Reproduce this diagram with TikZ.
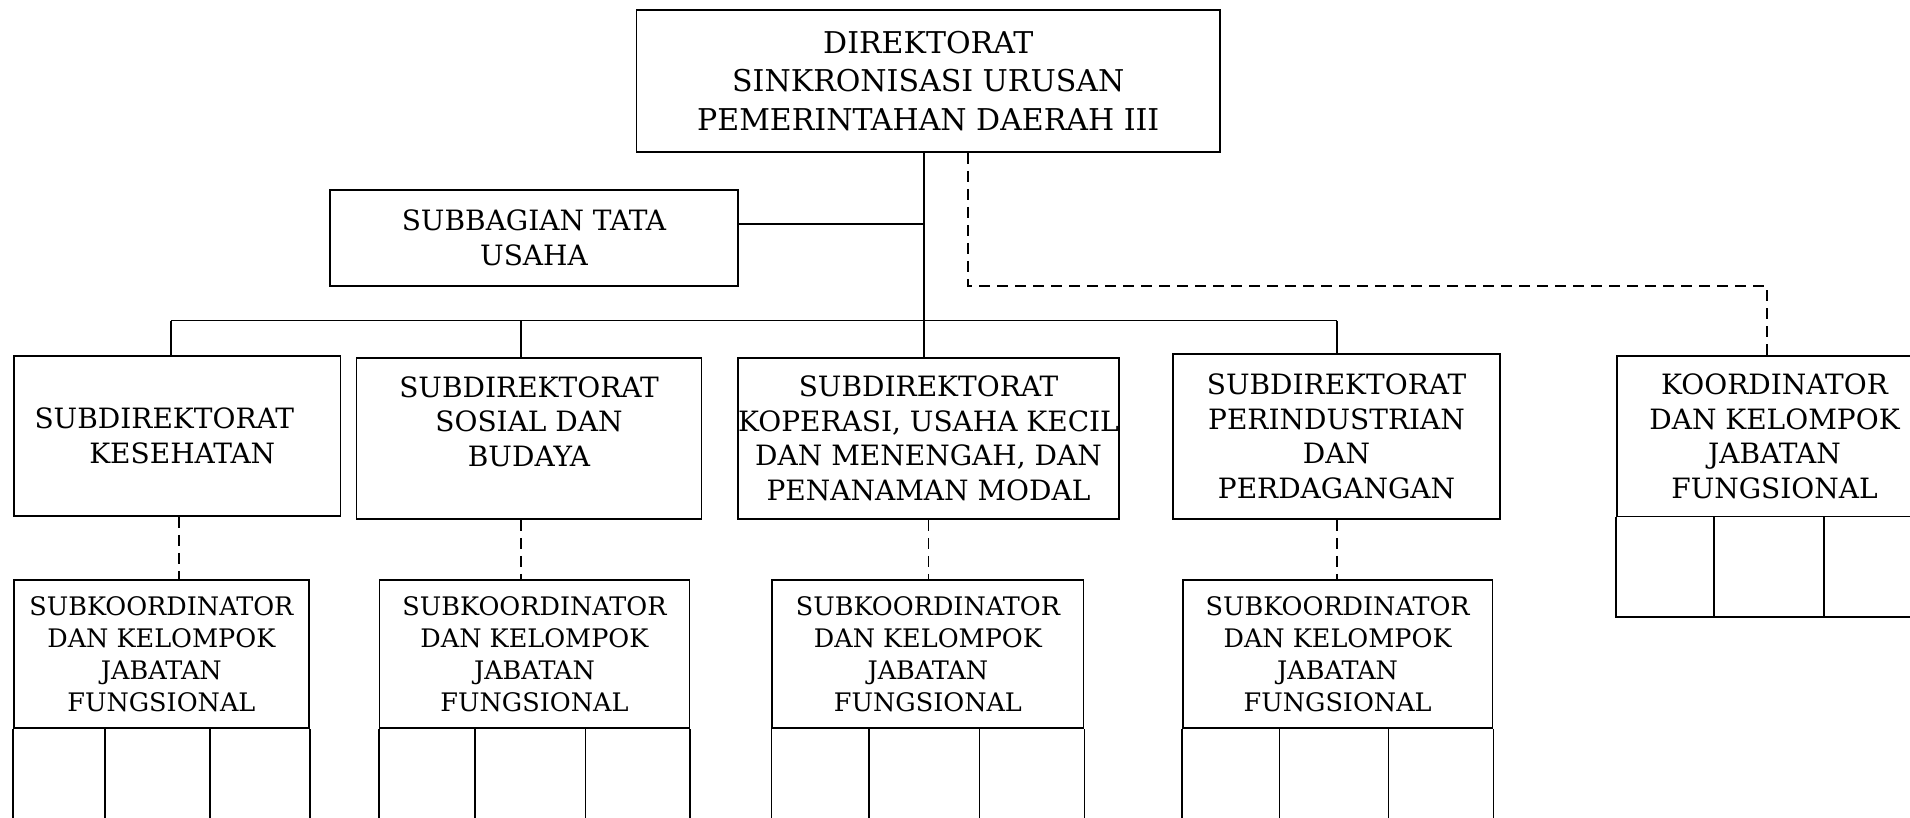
\documentclass[tikz,border=0pt]{standalone}
\usepackage{fontspec}
\setmainfont{DejaVu Serif}
\begin{document}
\begin{tikzpicture}[x=1pt,y=-1pt,
  box/.style={draw, line width=1.8pt, align=center, inner sep=0pt, font=\fontsize{25.5}{32}\selectfont},
  midfont/.style={font=\fontsize{28}{34.5}\selectfont},
  bigfont/.style={font=\fontsize{30}{38.5}\selectfont},
  conn/.style={line width=1.6pt},
  dconn/.style={line width=1.6pt, dash pattern=on 11pt off 7pt},
  cell/.style={line width=1.8pt}]
\path[use as bounding box, fill=white] (0,0) rectangle (1910,818);

% boxes
\node[box, bigfont, minimum width=583.5pt, minimum height=142pt] (dir) at (928.25,81) {DIREKTORAT\\SINKRONISASI URUSAN\\PEMERINTAHAN DAERAH III};
\node[box, midfont, minimum width=408pt, minimum height=96pt] (tu) at (534,238) {SUBBAGIAN TATA\\USAHA};
\node[box, midfont, minimum width=326.5pt, minimum height=160pt] (b1) at (177.25,436) {SUBDIREKTORAT\makebox[26pt]{}\\\makebox[10pt]{}KESEHATAN};
\node[box, midfont, minimum width=345pt, minimum height=161pt] (b2) at (529,438.5) {SUBDIREKTORAT\\SOSIAL DAN\\BUDAYA\\\mbox{}};
\node[box, midfont, minimum width=381pt, minimum height=161pt] (b3) at (928.5,438.5) {SUBDIREKTORAT\\KOPERASI, USAHA KECIL\\DAN MENENGAH, DAN\\PENANAMAN MODAL};
\node[box, midfont, minimum width=327pt, minimum height=165pt] (b4) at (1336.5,436.5) {SUBDIREKTORAT\\PERINDUSTRIAN\\DAN\\PERDAGANGAN};
\node[box, midfont, minimum width=315pt, minimum height=160.5pt] (k) at (1774.5,436.25) {KOORDINATOR\\DAN KELOMPOK\\JABATAN\\FUNGSIONAL};

\node[box, minimum width=294.7pt, minimum height=148.3pt] (s1) at (161.35,654.15) {SUBKOORDINATOR\\DAN KELOMPOK\\JABATAN\\FUNGSIONAL};
\node[box, minimum width=309.9pt, minimum height=148.3pt] (s2) at (534.45,654.15) {SUBKOORDINATOR\\DAN KELOMPOK\\JABATAN\\FUNGSIONAL};
\node[box, minimum width=311.2pt, minimum height=148.3pt] (s3) at (927.9,654.15) {SUBKOORDINATOR\\DAN KELOMPOK\\JABATAN\\FUNGSIONAL};
\node[box, minimum width=309.8pt, minimum height=148.3pt] (s4) at (1337.6,654.15) {SUBKOORDINATOR\\DAN KELOMPOK\\JABATAN\\FUNGSIONAL};

% lower cells
\coordinate (kb) at (0,617);
\draw[cell] (k.south west) -- (k.south west |- kb) -- (k.south east |- kb) -- (k.south east);
\draw[cell] (k.south -| 1714,0) -- (kb -| 1714,0);
\draw[cell] (k.south -| 1824,0) -- (kb -| 1824,0);
\coordinate (sb) at (0,840);
\foreach \n/\a/\b in {s1/105/210, s2/475/585.5, s3/869/979.4, s4/1279.4/1388.4}{
  \draw[cell] (\n.south west) -- (\n.south west |- sb) -- (\n.south east |- sb) -- (\n.south east);
  \draw[cell] (\n.south -| \a,0) -- (sb -| \a,0);
  \draw[cell] (\n.south -| \b,0) -- (sb -| \b,0);
}

% solid connectors
\coordinate (trunk) at (924,320.5);
\draw[conn] (dir.south -| trunk) -- (b3.north -| trunk);
\coordinate (tuj) at (924,224);
\draw[conn] (tuj -| tu.east) -- (tuj);
\coordinate (busL) at (171,320.5);
\coordinate (busR) at (1337,320.5);
\coordinate (d2) at (521,320.5);
\draw[conn] (busL) -- (busR);
\draw[conn] (busL) -- (busL |- b1.north);
\draw[conn] (d2) -- (d2 |- b2.north);
\draw[conn] (busR) -- (busR |- b4.north);

% dashed connectors
\coordinate (dd1) at (968,285.7);
\coordinate (dd2) at (1766.7,285.7);
\draw[dconn] (dir.south -| dd1) -- (dd1) -- (dd2) -- (dd2 |- k.north);
\coordinate (v1) at (179,0);
\coordinate (v2) at (521,0);
\coordinate (v3) at (928.6,0);
\coordinate (v4) at (1337,0);
\draw[dconn] (b1.south -| v1) -- (s1.north -| v1);
\draw[dconn] (b2.south -| v2) -- (s2.north -| v2);
\draw[dconn] (b3.south -| v3) -- (s3.north -| v3);
\draw[dconn] (b4.south -| v4) -- (s4.north -| v4);
\end{tikzpicture}
\end{document}
